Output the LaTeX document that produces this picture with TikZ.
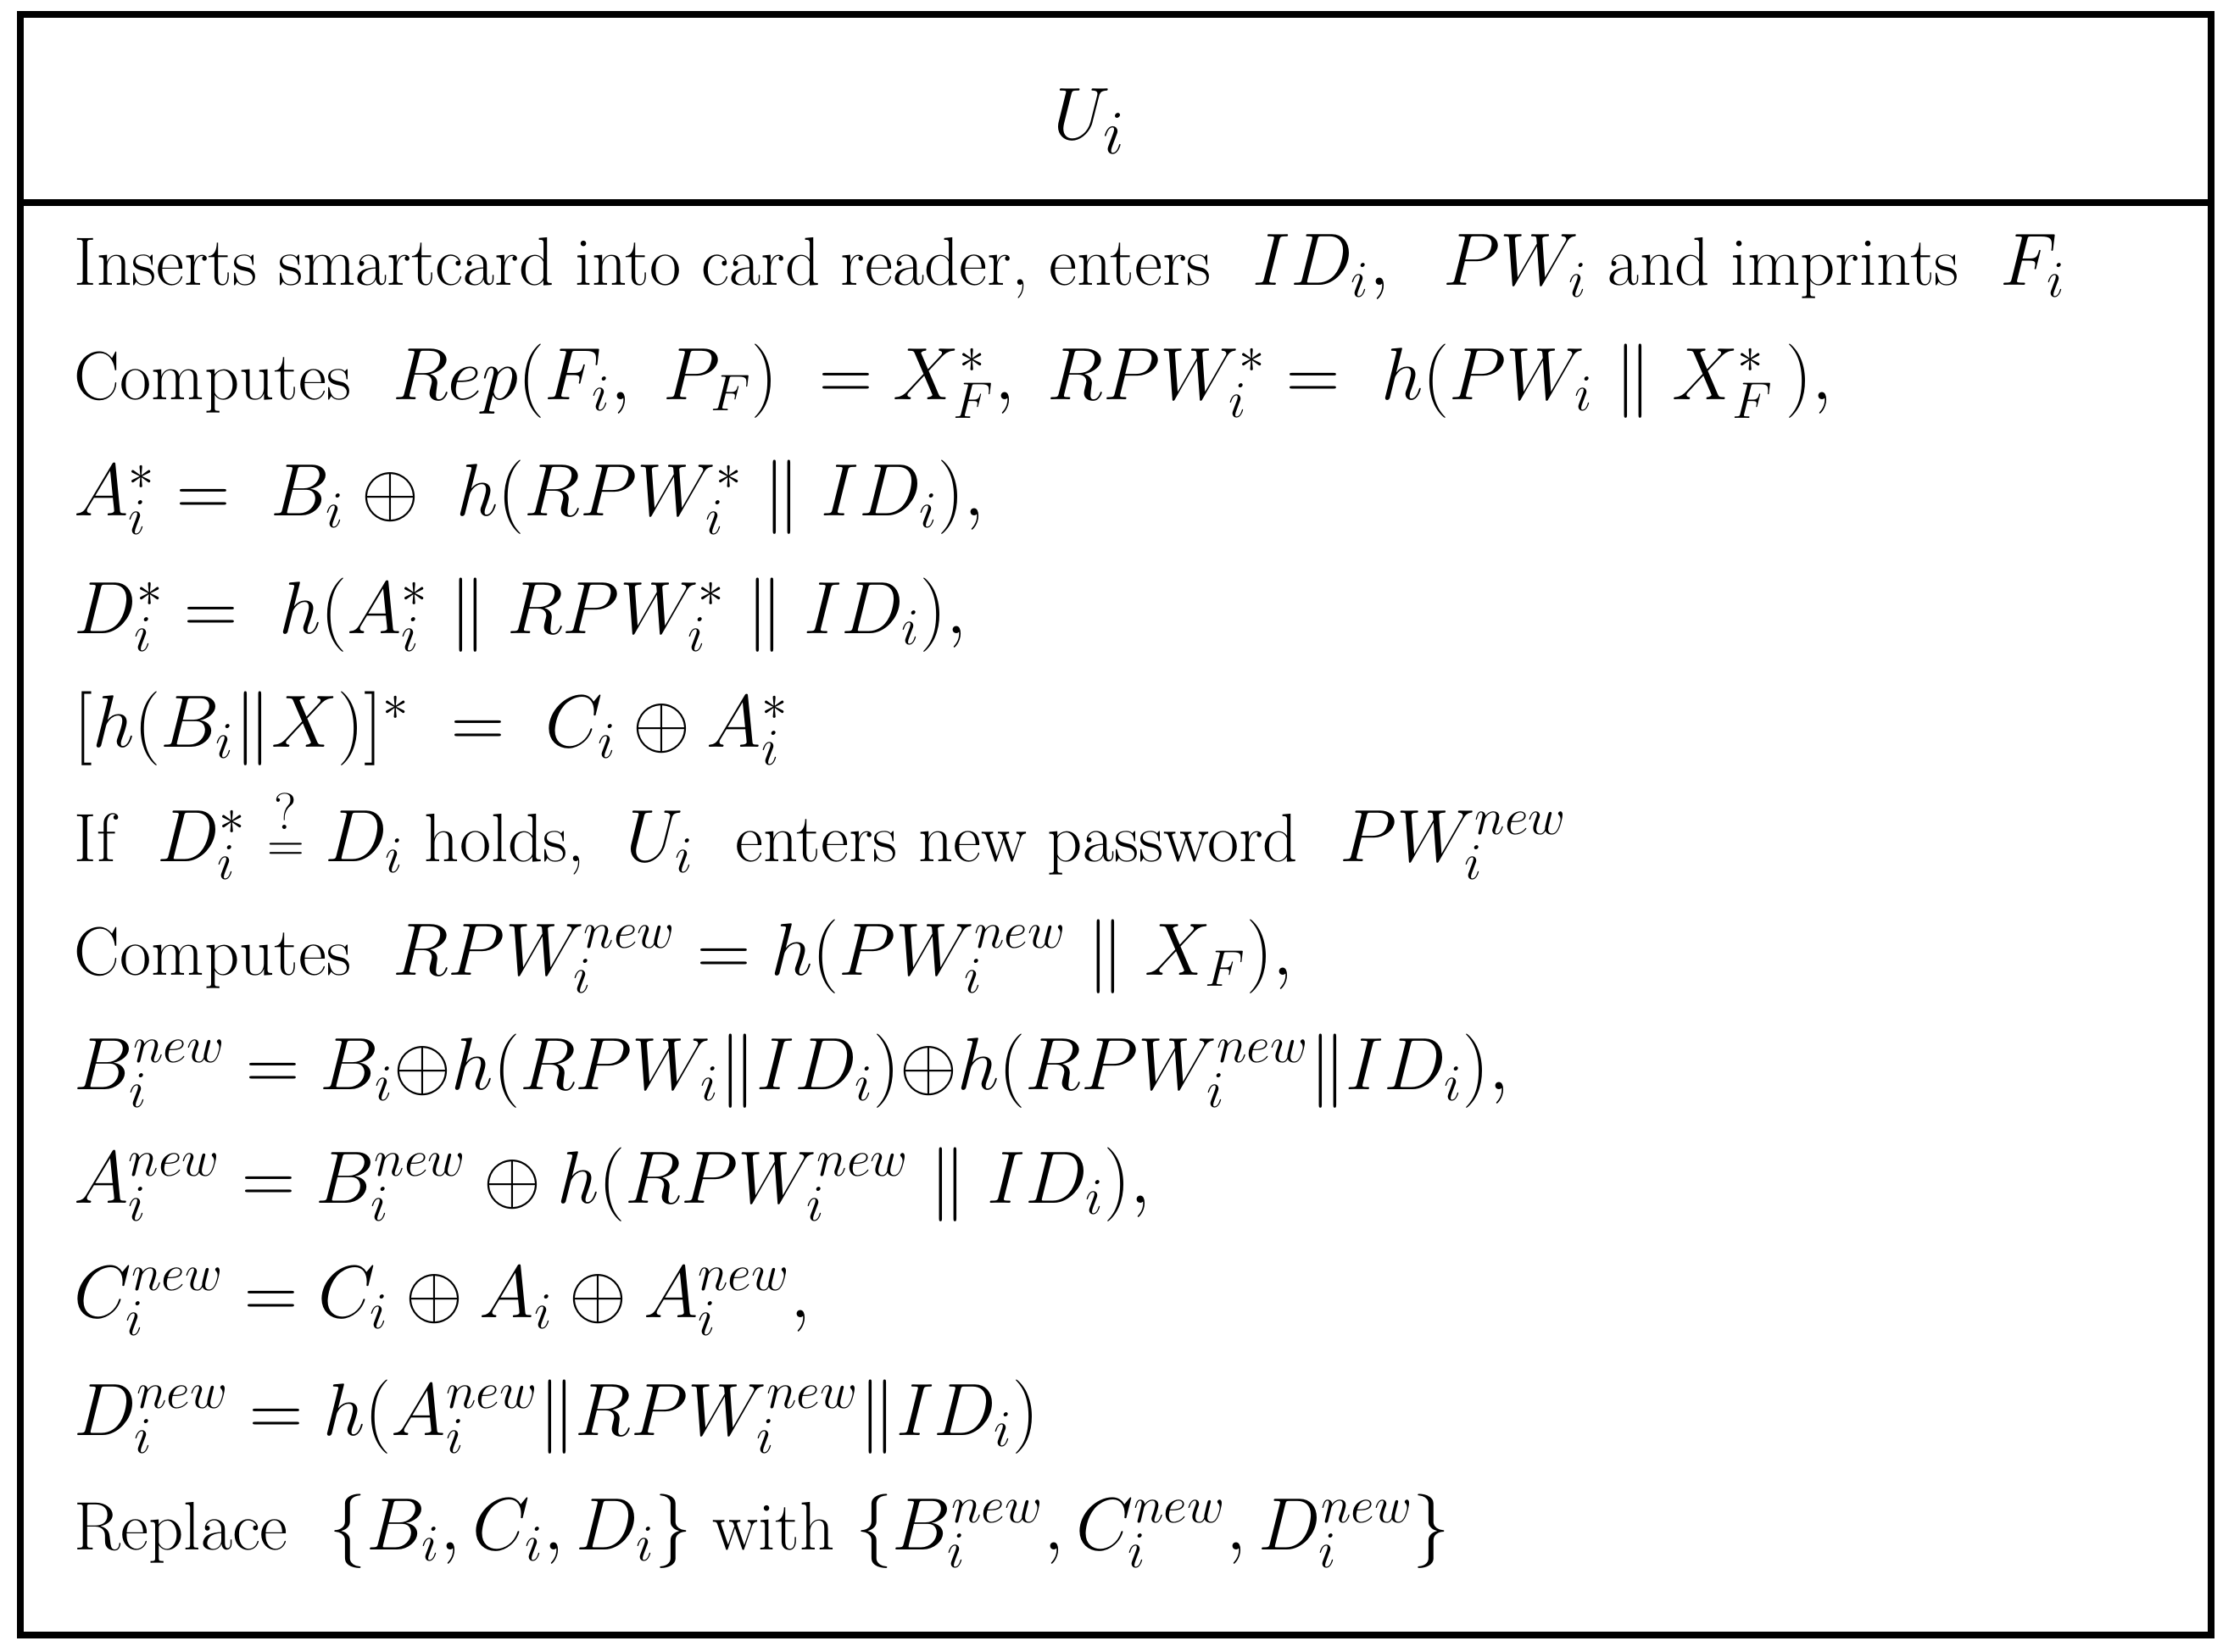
\documentclass[tikz,border=0pt]{standalone}
\usepackage{amsmath,amssymb}
\begin{document}
\begin{tikzpicture}[x=1cm,y=1cm,
  ln/.style={anchor=base west,inner sep=0pt,font=\fontsize{23}{28}\selectfont}]
\useasboundingbox (0,0) rectangle (26.35,-19.49);
\draw[line width=2.2pt] (0.24,-0.17) rectangle (26.08,-19.29);
\draw[line width=2.2pt] (0.24,-2.39) -- (26.08,-2.39);
\node[font=\fontsize{30}{34}\selectfont] (t) at (12.85,-1.43) {$U_i$};
\def\x{0.87}
\node[ln] (l1) at (\x,-3.37) {Inserts smartcard into card reader, enters \ $ID_i,\ \ PW_i$ and imprints \ $F_i$};
\node[ln] (l2) at (\x,-4.71) {Computes \ $Rep(F_i,\ P_F)\ =X_F^{*},\ RPW_i^{*}=\ h(PW_i\parallel X_F^{*}\,),$};
\node[ln] (l3) at (\x,-6.09) {$A_i^{*}=\ B_i\oplus\ h(RPW_i^{*}\parallel ID_i),$};
\node[ln] (l4) at (\x,-7.47) {$D_i^{*}=\ h(A_i^{*}\parallel RPW_i^{*}\parallel ID_i),$};
\node[ln] (l5) at (\x,-8.81) {$[h(B_i\Vert X)]^{*}\ =\ C_i\oplus A_i^{*}$};
\node[ln] (l6) at (\x,-10.16) {If \ $D_i^{*}\;\overset{?}{\scriptstyle=}\;D_i$ holds, \ $U_i$ \ enters new password \ $PW_i^{new}$};
\node[ln] (l7) at (\x,-11.50) {Computes \ $RPW_i^{new}=h(PW_i^{new}\parallel X_F),$};
\node[ln] (l8) at (\x,-12.85) {$B_i^{new}=B_i{\oplus}h(RPW_i\Vert ID_i){\oplus}h(RPW_i^{new}\Vert ID_i),$};
\node[ln] (l9) at (\x,-14.19) {$A_i^{new}=B_i^{new}\oplus h(RPW_i^{new}\parallel ID_i),$};
\node[ln] (l10) at (\x,-15.54) {$C_i^{new}=C_i\oplus A_i\oplus A_i^{new},$};
\node[ln] (l11) at (\x,-16.93) {$D_i^{new}=h(A_i^{new}\Vert RPW_i^{new}\Vert ID_i)$};
\node[ln] (l12) at (\x,-18.28) {Replace \ $\{B_i,C_i,D_i\}$ with $\{B_i^{new},C_i^{new},D_i^{new}\}$};
\end{tikzpicture}
\end{document}
